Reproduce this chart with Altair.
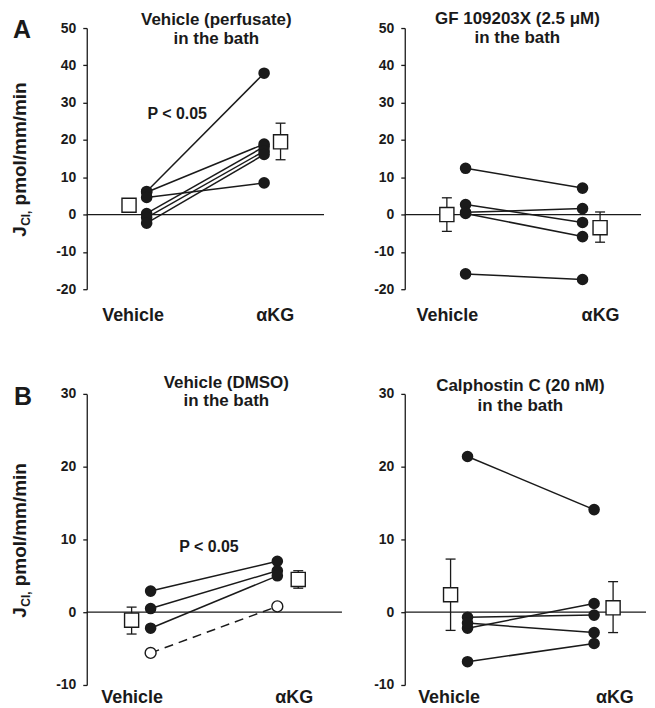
import altair as alt
import pandas as pd

FONT = "Liberation Sans"

# ---------------- data ----------------
groups = ["Vehicle", "αKG"]

# A, left: Vehicle (perfusate) in the bath
a1_veh = [6.2, 6.0, 4.6, 0.3, -0.8, -2.3]
a1_akg = [37.9, 18.9, 8.5, 18.2, 17.0, 16.1]
a1_mean = [2.5, 19.5]
a1_lo = [1.3, 14.7]
a1_hi = [3.7, 24.5]

# A, right: GF 109203X in the bath
a2_veh = [12.4, 2.7, 0.6, 0.3, -15.9]
a2_akg = [7.1, -2.1, 1.6, -5.9, -17.4]
a2_mean = [0.0, -3.5]
a2_lo = [-4.5, -7.4]
a2_hi = [4.5, 0.7]

# B, left: Vehicle (DMSO) in the bath
b1_veh = [2.9, 0.5, -2.2]
b1_akg = [7.0, 5.7, 5.0]
b1_open_veh = [-5.6]
b1_open_akg = [0.8]
b1_mean = [-1.1, 4.5]
b1_lo = [-3.0, 3.3]
b1_hi = [0.7, 5.7]

# B, right: Calphostin C in the bath
b2_veh = [21.4, -0.7, -2.2, -1.5, -6.8]
b2_akg = [14.1, -0.4, 1.2, -2.8, -4.3]
b2_mean = [2.4, 0.6]
b2_lo = [-2.5, -2.8]
b2_hi = [7.3, 4.2]

titles = [
    ["Vehicle (perfusate)", "in the bath"],
    ["GF 109203X (2.5 μM)", "in the bath"],
    ["Vehicle (DMSO)", "in the bath"],
    ["Calphostin C (20 nM)", "in the bath"],
]
p_label = "P < 0.05"
ylab_main = "J"
ylab_sub = "Cl,"
ylab_rest = "pmol/mm/min"
panel_letters = ["A", "B"]

BLACK = "#1a1a1a"
ONE = pd.DataFrame({"k": [0]})


def pairs_df(veh, akg):
    rows = []
    for i, (v, a) in enumerate(zip(veh, akg)):
        rows.append({"pid": i, "x": 1.0, "y": v})
        rows.append({"pid": i, "x": 2.0, "y": a})
    return pd.DataFrame(rows)


def panel(veh, akg, mean, lo, hi, title, cfg, open_veh=None, open_akg=None,
          ptext=None, letter=None):
    w, h = cfg["w"], cfg["h"]
    ydom = cfg["ydom"]
    xs = alt.Scale(domain=cfg["xdom"], nice=False, zero=False)
    ys = alt.Scale(domain=ydom, nice=False, zero=False)
    xaxis = alt.Axis(
        values=cfg["xlab"],
        labelExpr=f"datum.value < 1.5 ? '{groups[0]}' : '{groups[1]}'",
        domain=False, ticks=False, grid=False, labelFont=FONT,
        labelFontSize=18, labelFontWeight="bold", labelColor=BLACK,
        labelPadding=cfg["xpad"], labelFlush=False, labelOverlap=False,
        labelBaseline="top", title=None)
    yaxis = alt.Axis(
        values=list(range(ydom[0], ydom[1] + 1, 10)), grid=False,
        labelExpr="datum.value < 0 ? '-' + abs(datum.value) : '' + datum.value",
        domainColor=BLACK, domainWidth=1.3, tickColor=BLACK, tickWidth=1.3,
        tickSize=4, labelFont=FONT, labelFontSize=14, labelFontWeight="bold",
        labelColor=BLACK, labelPadding=7, title=None)

    def X(f):
        return alt.X(f, type="quantitative", scale=xs, axis=xaxis)

    def Y(f):
        return alt.Y(f, type="quantitative", scale=ys, axis=yaxis)

    pdf = pairs_df(veh, akg)
    mdf = pd.DataFrame({"x": cfg["xmean"], "m": mean, "lo": lo, "hi": hi})
    cdf = pd.DataFrame({"x": cfg["xmean"] * 2, "c": lo + hi})

    layers = [
        alt.Chart(ONE).mark_rule(color=BLACK, strokeWidth=1.3).encode(
            x=alt.value(0), x2=alt.value(w),
            y=alt.YDatum(0, type="quantitative", scale=ys, axis=yaxis)),
        alt.Chart(pdf).mark_line(color=BLACK, strokeWidth=1.5).encode(
            x=X("x"), y=Y("y"), detail="pid:N"),
    ]
    if open_veh:
        odf = pairs_df(open_veh, open_akg)
        layers.append(alt.Chart(odf).mark_line(color=BLACK, strokeWidth=1.5,
                                               strokeDash=[9, 6]).encode(
            x=X("x"), y=Y("y"), detail="pid:N"))
    layers += [
        alt.Chart(mdf).mark_rule(color=BLACK, strokeWidth=1.3).encode(
            x=X("x"), y=Y("lo"), y2="hi"),
        alt.Chart(cdf).mark_tick(color=BLACK, orient="horizontal", size=10,
                                 thickness=1.3, opacity=1).encode(
            x=X("x"), y=Y("c")),
        alt.Chart(mdf).mark_point(shape="square", fill="white", stroke=BLACK,
                                  strokeWidth=1.4, size=200, opacity=1).encode(
            x=X("x"), y=Y("m")),
        alt.Chart(pdf).mark_point(shape="circle", filled=True, color=BLACK,
                                  size=135, opacity=1).encode(
            x=X("x"), y=Y("y")),
    ]
    if open_veh:
        layers.append(alt.Chart(odf).mark_point(
            shape="circle", fill="white", stroke=BLACK, strokeWidth=1.4,
            size=120, opacity=1).encode(x=X("x"), y=Y("y")))

    tstyle = dict(font=FONT, fontSize=17, fontWeight="bold", color=BLACK,
                  align="center", baseline="middle")
    for line, ty in zip(title, cfg["ty"]):
        layers.append(alt.Chart(ONE).mark_text(**tstyle).encode(
            x=alt.value(cfg["tx"]), y=alt.value(ty), text=alt.value(line)))

    if ptext:
        layers.append(alt.Chart(ONE).mark_text(
            font=FONT, fontSize=16, fontWeight="bold", color=BLACK,
            align="center", baseline="middle").encode(
            x=alt.XDatum(ptext[0], type="quantitative", scale=xs, axis=xaxis),
            y=alt.YDatum(ptext[1], type="quantitative", scale=ys, axis=yaxis),
            text=alt.value(p_label)))

    if letter:
        layers.append(alt.Chart(ONE).mark_text(
            font=FONT, fontSize=25, fontWeight="bold", color=BLACK,
            align="center", baseline="middle").encode(
            x=alt.value(cfg["lx"]), y=alt.value(cfg["ly"]), text=alt.value(letter)))
        # rotated y-axis title  J_Cl, pmol/mm/min
        c = cfg["yc"]
        L = 10.6 + 15.3 + 5.5 + 123.5
        start = c + L / 2
        rot = dict(font=FONT, fontWeight="bold", color=BLACK, angle=270,
                   align="left", baseline="alphabetic")
        layers.append(alt.Chart(ONE).mark_text(fontSize=19, **rot).encode(
            x=alt.value(-61), y=alt.value(start), text=alt.value(ylab_main)))
        layers.append(alt.Chart(ONE).mark_text(fontSize=12, **rot).encode(
            x=alt.value(-57), y=alt.value(start - 11), text=alt.value(ylab_sub)))
        layers.append(alt.Chart(ONE).mark_text(fontSize=19, **rot).encode(
            x=alt.value(-61), y=alt.value(start - 31.5), text=alt.value(ylab_rest)))

    return alt.layer(*layers).properties(width=w, height=h)


cfg_a1 = dict(w=238, h=262, xdom=[0.49, 2.51], ydom=[-20, 50], xmean=[0.85, 2.14],
              xlab=[0.88, 2.09], xpad=17, tx=130, ty=[-8.5, 11.5],
              lx=-65, ly=1.5, yc=132)
cfg_a2 = dict(w=237, h=262, xdom=[0.48, 2.5], ydom=[-20, 50], xmean=[0.84, 2.15],
              xlab=[0.84, 2.15], xpad=17, tx=113, ty=[-9.5, 10])
cfg_b1 = dict(w=256, h=292, xdom=[0.496, 2.51], ydom=[-10, 30], xmean=[0.85, 2.165],
              xlab=[0.85, 2.13], xpad=4, tx=140, ty=[-11, 7],
              lx=-64, ly=3, yc=147)
cfg_b2 = dict(w=242, h=292, xdom=[0.504, 2.41], ydom=[-10, 30], xmean=[0.866, 2.15],
              xlab=[0.85, 2.16], xpad=4, tx=116, ty=[-8, 12])

pA1 = panel(a1_veh, a1_akg, a1_mean, a1_lo, a1_hi, titles[0], cfg_a1,
            ptext=(1.26, 27), letter=panel_letters[0])
pA2 = panel(a2_veh, a2_akg, a2_mean, a2_lo, a2_hi, titles[1], cfg_a2)
pB1 = panel(b1_veh, b1_akg, b1_mean, b1_lo, b1_hi, titles[2], cfg_b1,
            open_veh=b1_open_veh, open_akg=b1_open_akg,
            ptext=(1.46, 8.9), letter=panel_letters[1])
pB2 = panel(b2_veh, b2_akg, b2_mean, b2_lo, b2_hi, titles[3], cfg_b2)

chart = alt.concat(
    pA1, pA2, pB1, pB2, columns=2, bounds="flush",
    spacing={"row": 105, "column": 63},
).properties(
    padding={"left": 3, "top": 0, "right": 0, "bottom": 0},
    background="white",
).configure_view(stroke=None)

chart.save("out.html", embed_options={"renderer": "svg", "actions": False})
